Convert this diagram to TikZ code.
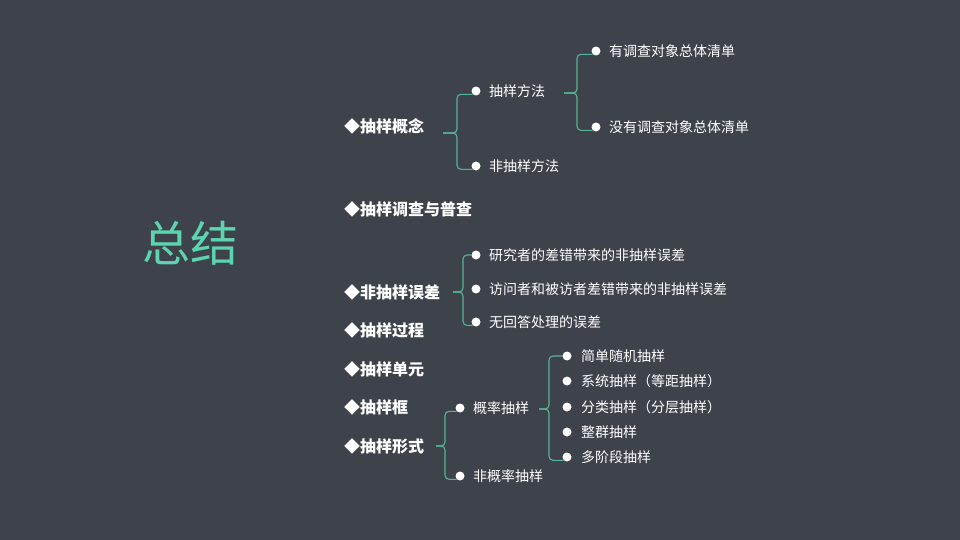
\documentclass[tikz,border=0pt]{standalone}
\usepackage{fontspec}
\newfontfamily\cjk{Noto Sans CJK SC}
\definecolor{bgdark}{HTML}{3E424B}
\definecolor{mint}{HTML}{5DD3B0}
\definecolor{branchline}{HTML}{55B596}
\tikzset{
  topic/.style={anchor=west, text=white, font=\cjk\bfseries\fontsize{16}{18}\selectfont, inner sep=0pt},
  leaf/.style={anchor=west, text=white, font=\cjk\fontsize{14}{16}\selectfont, inner sep=0pt},
  dot/.style={circle, fill=white, minimum size=9pt, inner sep=0pt},
  branch/.style={draw=branchline, line width=1.1pt, rounded corners=4pt},
}
\begin{document}
\begin{tikzpicture}[x=1pt,y=-1pt]
  \fill[bgdark] (0,0) rectangle (960,540);
  \useasboundingbox (0,0) rectangle (960,540);
  \node[text=mint, font=\cjk\fontsize{48}{52}\selectfont] (title) at (190,243) {总结};
  % main topics
  \node[topic] (gainian) at (344,126) {◆抽样概念};
  \node[topic] (diaocha) at (344,209) {◆抽样调查与普查};
  \node[topic] (wucha) at (344,292) {◆非抽样误差};
  \node[topic] (guocheng) at (344,330) {◆抽样过程};
  \node[topic] (danyuan) at (344,369) {◆抽样单元};
  \node[topic] (kuang) at (344,407) {◆抽样框};
  \node[topic] (xingshi) at (344,446) {◆抽样形式};
  % sampling concept
  \node[dot] (b11) at (476,91) {};
  \node[leaf] (fangfa) at (489,91) {抽样方法};
  \node[dot] (b12) at (476,166) {};
  \node[leaf] (feifangfa) at (489,166) {非抽样方法};
  \node[dot] (b21) at (596,51) {};
  \node[leaf] (youqingdan) at (609,51) {有调查对象总体清单};
  \node[dot] (b22) at (596,127) {};
  \node[leaf] (meiqingdan) at (609,127) {没有调查对象总体清单};
  % non-sampling error
  \node[dot] (b31) at (476,255) {};
  \node[leaf] (yanjiu) at (489,255) {研究者的差错带来的非抽样误差};
  \node[dot] (b32) at (476,289) {};
  \node[leaf] (fangwen) at (489,289) {访问者和被访者差错带来的非抽样误差};
  \node[dot] (b33) at (476,322) {};
  \node[leaf] (wuhuida) at (489,322) {无回答处理的误差};
  % sampling forms
  \node[dot] (b41) at (460,408) {};
  \node[leaf] (gailv) at (473,408) {概率抽样};
  \node[dot] (b42) at (460,476) {};
  \node[leaf] (feigailv) at (473,476) {非概率抽样};
  \node[dot] (b51) at (567,356) {};
  \node[leaf] (jiandan) at (581,356) {简单随机抽样};
  \node[dot] (b52) at (567,381) {};
  \node[leaf] (xitong) at (581,381) {系统抽样（等距抽样）};
  \node[dot] (b53) at (567,407) {};
  \node[leaf] (fenlei) at (581,407) {分类抽样（分层抽样）};
  \node[dot] (b54) at (567,432) {};
  \node[leaf] (zhengqun) at (581,432) {整群抽样};
  \node[dot] (b55) at (567,457) {};
  \node[leaf] (duojieduan) at (581,457) {多阶段抽样};
  % brackets
  \coordinate (sA) at (443,133);
  \coordinate (jA) at (457,133);
  \coordinate (sB) at (564,93);
  \coordinate (jB) at (577,93);
  \coordinate (sC) at (453,292);
  \coordinate (jC) at (463,292);
  \coordinate (sD) at (436,446);
  \coordinate (jD) at (445,446);
  \coordinate (sE) at (539,409);
  \coordinate (jE) at (549,409);
  \draw[branch] (sA) -- (jA) |- (b11.south west);
  \draw[branch] (sA) -- (jA) |- (b12.south west);
  \draw[branch] (sB) -- (jB) |- (b21.south west);
  \draw[branch] (sB) -- (jB) |- (b22.south west);
  \draw[branch] (sC) -- (jC) |- (b31.west);
  \draw[branch] (sC) -- (jC) |- (b33.south west);
  \draw[branch] (sD) -- (jD) |- (b41.south west);
  \draw[branch] (sD) -- (jD) |- (b42.south west);
  \draw[branch] (sE) -- (jE) |- (b51.west);
  \draw[branch] (sE) -- (jE) |- (b55.south west);
\end{tikzpicture}
\end{document}
